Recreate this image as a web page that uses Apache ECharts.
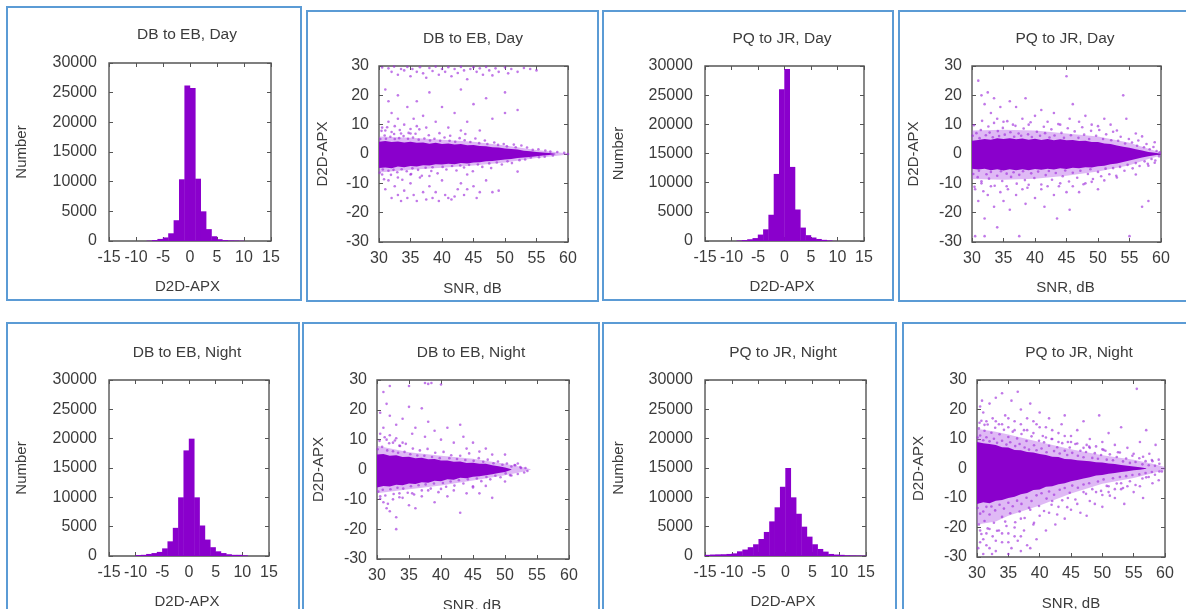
<!DOCTYPE html>
<html><head><meta charset="utf-8">
<style>html,body{margin:0;padding:0;background:#fff;overflow:hidden}#c{width:1186px;height:609px;filter:blur(0.5px)}</style>
<script src="https://cdn.jsdelivr.net/npm/echarts@6/dist/echarts.min.js"></script>
</head><body><div id="c"></div>
<script>
// Bin left edges -15 .. 14, width 1
const histBins = [-15,-14,-13,-12,-11,-10,-9,-8,-7,-6,-5,-4,-3,-2,-1,0,1,2,3,4,5,6,7,8,9,10,11,12,13,14];
const histDbDay   = [0,0,0,0,0,0,0,60,150,350,600,1300,3500,10400,26200,25800,10500,5000,2000,800,300,150,100,80,50,0,0,0,0,0];
const histPqDay   = [0,0,0,0,0,0,80,150,300,500,1100,2000,4500,11500,26000,29500,12700,5400,2300,1000,600,350,200,100,20,0,0,0,0,0];
const histDbNight = [0,0,0,0,0,150,200,350,500,700,1300,2500,4800,10000,18000,20000,10000,5200,2800,1500,800,500,300,200,200,120,0,0,0,0];
const histPqNight = [200,250,280,300,350,450,800,1100,1500,2000,2900,4100,5900,8300,11800,15000,10000,7200,5000,3300,2000,1200,750,350,250,200,120,100,80,60];

// Estimated envelope of the solid cloud: [SNR, lower, upper]
const coreDbDay = [[30,-4.8,4.2],[31,-4.6,4.4],[32,-4.9,4.1],[33,-4.3,4.3],[34,-4.5,3.9],[35,-4.1,4.2],[36,-4.3,3.8],[37,-3.8,3.9],[38,-3.9,3.5],[39,-3.5,3.8],[40,-3.6,3.4],[41,-3.3,3.6],[42,-3.5,3.2],[43,-3.1,3.4],[44,-3.2,3],[45,-2.9,3.1],[46,-2.8,2.7],[47,-2.5,2.6],[48,-2.4,2.3],[49,-2.1,2.2],[50,-1.9,1.9],[51,-1.7,1.7],[52,-1.4,1.5],[53,-1.2,1.1],[54,-1,0.9],[55,-0.8,0.7],[56,-0.5,0.5],[57,-0.3,0.3],[58,-0.1,0.1]];
const fringeDbDay = [[30,-6.3,6],[35,-5.4,5.5],[40,-4.7,4.9],[45,-3.9,4.2],[50,-2.9,2.9],[55,-1.4,1.4],[58,-0.7,0.7],[60,-0.2,0.2]];
const corePqDay = [[30,-5,4.5],[31,-5.3,4.8],[32,-5,5.1],[33,-5.5,4.9],[34,-5.2,5.4],[35,-5.6,5.1],[36,-5.2,5.4],[37,-5.5,5],[38,-5.2,5.3],[39,-5.5,4.9],[40,-5.1,5.2],[41,-5.4,4.8],[42,-5,5.1],[43,-5.3,4.7],[44,-4.9,5],[45,-5.1,4.7],[46,-4.7,4.8],[47,-4.9,4.4],[48,-4.5,4.5],[49,-4.6,4.1],[50,-4.2,4.1],[51,-4,3.6],[52,-3.5,3.4],[53,-3.2,2.9],[54,-2.7,2.5],[55,-2.2,2.1],[56,-1.7,1.6],[57,-1.2,1.2],[58,-0.8,0.7],[59,-0.4,0.4],[60,-0.1,0.1]];
const fringePqDay = [[30,-8.5,8],[35,-8.8,8.3],[40,-8.4,8],[45,-7.4,7],[50,-6,6],[55,-3.8,3.8],[58,-1.7,1.8],[60,-0.5,0.5]];
const coreDbNight = [[30,-6,5],[31,-5.5,5.2],[32,-5.7,4.6],[33,-5.1,4.8],[34,-5.3,4.2],[35,-4.7,4.3],[36,-4.9,3.8],[37,-4.3,3.9],[38,-4.4,3.4],[39,-3.8,3.5],[40,-3.9,3],[41,-3.3,3],[42,-3.4,2.6],[43,-2.8,2.7],[44,-2.9,2.2],[45,-2.4,2.3],[46,-2.3,1.9],[47,-1.9,1.9],[48,-1.6,1.4],[49,-1.2,1.1],[50,-0.8,0.7],[51,-0.1,0.1]];
const fringeDbNight = [[30,-8,8],[35,-6.6,5.8],[40,-5.4,4.6],[45,-3.7,3.6],[50,-1.9,1.9],[53,-0.7,0.7],[54,-0.1,0.1]];
const corePqNight = [[30,-12,9],[31,-11.4,8.6],[32,-11.8,8.3],[33,-10.9,8],[34,-10.7,7.2],[35,-10,7.1],[36,-9.6,6.3],[37,-8.7,6.2],[38,-8.3,5.6],[39,-7.3,5.4],[40,-7.1,4.9],[41,-6.2,4.6],[42,-6,4],[43,-5.3,3.9],[44,-5,3.2],[45,-4.3,3.1],[46,-3.9,2.8],[47,-3.4,2.6],[48,-3,2.5],[49,-2.4,2.1],[50,-2.2,2],[51,-1.8,1.7],[52,-1.5,1.5],[53,-1.2,1.2],[54,-0.9,0.9],[55,-0.6,0.7],[56,-0.4,0.4],[57,-0.1,0.1]];
const fringePqNight = [[30,-19,13.5],[33,-18,12.5],[35,-16,11.5],[40,-12.5,9],[45,-8.5,6.5],[50,-5.2,4.5],[55,-3.2,3],[58,-1.6,1.6],[60,-0.5,0.5]];

// Individually read scattered points
const dotsDbDay = [[30.5,29.5],[31.5,29.2],[32,28],[32.4,29.8],[33,27],[33.5,29],[34,28.5],[34.5,29.7],[35,26.5],[35.3,29],[36,28],[36.5,29.6],[37,27.5],[37.5,26],[38,29.3],[38.5,28.3],[39,29.8],[39.5,27],[40,29],[40.5,28],[41,29.6],[41.5,26.5],[42,29],[42.5,27.6],[43,29.7],[43.5,28.5],[44,25.5],[44.5,29],[45,29.6],[45.5,28],[46,29.2],[46.5,27],[47,29.7],[47.5,28.5],[48,26.8],[48.5,29.2],[49,28],[50,29.5],[50.5,27.5],[51,29],[52,28],[53,29.3],[54,29],[55,28.5],[31,22],[31.5,18],[32,14],[33,12],[33,20],[34,10],[34.5,16],[35,8.5],[35.5,12],[36,18],[37,13],[37.5,9],[38,21],[39,11],[40,16],[41,9],[42,14],[43,22],[44,11],[45,17],[46,8],[47,19],[48,12],[50,14],[52,15],[50,21],[43,8],[30.5,9],[31,8],[31.5,11],[32,7.5],[32.5,9.5],[33.5,7],[35,7],[36,9.5],[30.5,-7],[31,-12],[31.5,-9],[32,-15],[32.5,-11],[33,-14],[33.5,-16],[34,-12.5],[34.5,-15],[35,-10],[35.5,-14],[36,-16],[36.5,-8],[37,-13],[37.5,-15.5],[38,-11],[38.5,-15],[39,-13],[39.5,-16],[40,-9],[40.5,-14],[41,-15],[41.5,-15.5],[42,-14.5],[42.5,-12],[43,-10],[43.5,-14],[44,-12],[45,-11],[45.5,-15],[46,-13],[47,-9],[48,-13],[49,-12.5],[33,-8],[35,-7],[38,-7.5],[44,-7],[52,-6]];
const edgeDbDay = [[30.2,5.1],[30.4,7.9],[30.9,6.3],[31.1,5.2],[31.3,9.1],[31.8,5.9],[32.4,6.8],[32.5,5.1],[33.2,5.4],[33.3,8.2],[33.9,6.1],[34.6,5.2],[34.7,7.2],[35.4,5.6],[35.8,6.9],[36.3,4.9],[36.4,8.4],[37.2,5.3],[37.9,6.4],[38.1,4.6],[38.8,5.2],[39.6,7.1],[39.7,4.5],[40.4,5.6],[41.2,4.5],[41.3,6.2],[42.1,4.2],[42.8,5.4],[43.6,4.7],[43.7,6.8],[44.5,4.1],[45.3,5.3],[45.9,3.7],[46.8,4.6],[47.2,3.4],[48.3,3.9],[48.9,3.1],[49.8,3.4],[50.3,2.6],[51.4,3.2],[51.7,2.3],[52.6,2.9],[53.5,2.2],[54.4,1.4],[55.3,1.6],[56.4,1.2],[57.2,0.8],[58.3,0.7],[59.4,0.4],[60,0],
[30.1,-6.4],[30.6,-5.3],[30.8,-8.6],[31.5,-5.7],[31.9,-7.1],[32.3,-5.4],[32.9,-6.2],[33.6,-5.2],[33.7,-8.8],[34.4,-5.9],[35.1,-6.8],[35.3,-4.9],[36.2,-5.4],[36.8,-7.4],[37.4,-4.7],[38.3,-5.8],[38.5,-4.5],[39.3,-6.6],[40.1,-4.4],[40.7,-5.3],[41.6,-4.1],[42.3,-5.6],[42.9,-3.9],[43.5,-4.6],[44.3,-3.7],[44.9,-5.9],[45.7,-3.6],[46.4,-4.4],[47.5,-3.2],[47.8,-4.8],[48.7,-2.9],[49.5,-3.6],[50.4,-2.5],[51.1,-3.1],[52.3,-2.1],[53.2,-1.9],[54.1,-1.2],[55.4,-1.1],[56.3,-0.9],[57.6,-0.5]];
const dotsPqDay = [[31,25],[31.5,20],[32,17],[32.5,21],[33,14],[33.5,19],[34,12],[34.5,16],[35,11],[36,18],[36.5,10],[37,16],[38,12],[38.5,19],[39,10],[40,13],[41,15],[42,11],[43,14],[44,10],[45,26.5],[45.5,12],[46,17],[47,11],[48,13],[49,10],[50,9.5],[51,12],[52,10],[53,8],[54,20],[54.5,12],[56,7],[57,6],[30.5,-12],[31,-16],[31.5,-10],[32,-22],[32.5,-14],[33,-11],[33.5,-18],[34,-25],[34.5,-13],[35,-16],[35.5,-11],[36,-19],[37,-14],[37.5,-28],[38,-12],[38.5,-17],[39,-10.5],[40,-15],[41,-12],[41.5,-18],[42,-11],[43,-14],[43.5,-22],[44,-10],[45,-13],[45.5,-19],[46,-11],[47,-13],[48,-10],[49,-9.5],[50,-12],[51,-9],[53,-8],[55,-28],[56,-7],[57,-18],[58,-16],[58,-4],[59,-3],[59,4],[32,-28],[30.5,-28]];
const edgePqDay = [[30.1,6.2],[30.3,9.8],[30.7,7.1],[31.2,5.4],[31.4,8.2],[31.6,11.3],[32.2,6.4],[32.6,9.4],[32.8,7.3],[33.3,5.7],[33.5,10.6],[34.1,7.8],[34.3,6.1],[34.9,8.9],[35.2,6.6],[35.6,11.2],[36.1,7.4],[36.7,5.9],[36.9,9.6],[37.4,7],[37.8,6.2],[38.2,8.7],[38.9,6.7],[39.3,10.8],[39.5,5.8],[40.3,7.6],[40.8,6.2],[41.4,9.3],[41.6,7.1],[42.3,5.6],[42.6,8.4],[43.1,6.3],[43.7,10.2],[44.2,7.2],[44.6,5.5],[45.2,8.8],[45.7,6.4],[46.3,7.7],[46.9,5.5],[47.5,9.1],[47.8,6.6],[48.6,5.1],[48.9,7.9],[49.7,6.2],[50.2,8.2],[50.8,5.1],[51.3,6.7],[52.1,4.7],[52.4,7.6],[53.2,4.5],[53.6,5.9],[54.3,3.6],[54.9,5.1],[55.4,3.9],[56.2,2.8],[56.4,4.6],[57.3,2.3],[57.7,3.4],[58.2,1.6],[58.8,2.4],[59.3,1],[59.8,0.6],
[30.2,-6.8],[30.4,-11.2],[30.9,-7.9],[31.1,-5.7],[31.5,-9.3],[31.8,-12.7],[32.3,-6.9],[32.7,-8.4],[33,-6.1],[33.6,-10.8],[34,-7.4],[34.6,-5.9],[34.8,-9.2],[35.5,-6.7],[35.7,-12],[36.2,-7.8],[36.6,-6.2],[37.1,-10.1],[37.5,-7.1],[38.1,-5.9],[38.4,-8.9],[38.8,-11.5],[39.4,-6.6],[39.9,-8.2],[40.5,-6],[41,-10.4],[41.7,-7.2],[42.2,-5.8],[42.7,-8.8],[43.3,-6.5],[43.8,-11],[44.4,-7.6],[44.8,-5.6],[45.4,-9.4],[46,-6.4],[46.7,-8.1],[47.2,-5.7],[47.7,-10.3],[48.4,-6.8],[48.8,-5.2],[49.2,-8.5],[50,-6.1],[50.5,-7.6],[51.2,-5],[51.8,-6.9],[52.4,-4.8],[52.9,-7.4],[53.5,-4.4],[54.2,-5.7],[54.7,-3.7],[55.5,-4.9],[56,-3.1],[56.6,-4.1],[57.4,-2.5],[57.9,-3.3],[58.5,-1.7],[59.1,-2.2],[59.7,-0.8]];
const dotsDbNight = [[32,28],[35,28],[37.5,29],[38,28.7],[38.5,29],[40,28.5],[31,26],[30.5,19],[31.5,22],[32,18],[33,15],[34,17],[35,21],[35.5,12],[36,14],[37,20.5],[37.5,11],[38,16],[39,13],[40,10],[41,14],[42,9],[43,15],[43.5,11],[44,7],[45,9],[46,6],[47,7],[48,5],[50,5],[52,2],[30.5,12],[31,14],[31.5,10],[32,11.5],[32.5,9],[33,10.5],[33.5,8],[34,9],[30.5,-9],[31,-11],[31.5,-13],[32,-14],[32.5,-10],[33,-16],[33.5,-8],[34,-9.5],[35,-12],[35.5,-8],[36,-13],[37,-9],[38,-7],[39,-11],[40,-6.5],[41,-9],[42,-7],[43,-14.5],[44,-8],[45,-6],[46,-8],[47,-5.5],[48,-9.5],[50,-4],[51,-2],[52,-1.5],[53,-1],[53.5,-0.5],[52.5,0.5],[51.5,1.5],[33,-20]];
const edgeDbNight = [[30.1,6.8],[30.4,9.6],[30.8,7.6],[31.2,10.8],[31.6,6.4],[31.9,8.8],[32.5,6.1],[32.8,9.7],[33.3,5.6],[33.6,7.9],[34.3,5.9],[34.5,8.6],[35.2,5.1],[35.6,7],[36.3,4.7],[36.7,6.4],[37.4,4.6],[37.9,6.9],[38.6,4.2],[39.1,5.6],[39.8,3.8],[40.4,5.9],[41.3,3.8],[41.6,4.8],[42.5,3.5],[43,4.6],[43.8,3.2],[44.4,5.4],[45.1,2.9],[45.9,3.8],[46.6,2.6],[47.3,3.3],[48.2,2.1],[48.9,2.7],[49.6,1.6],[50.3,2],[51,1],[51.6,1.4],[52.4,0.8],[53.2,0.5],
[30.2,-7.4],[30.5,-9.8],[30.9,-6.8],[31.3,-8.7],[31.7,-11.5],[32.1,-6.6],[32.6,-8.2],[33.2,-6.1],[33.5,-9.3],[34.1,-6.4],[34.8,-7.8],[35.3,-5.6],[35.8,-8.4],[36.5,-5.3],[37,-7],[37.6,-5],[38.4,-6.4],[38.9,-4.7],[39.6,-7.6],[40.3,-4.5],[40.8,-5.8],[41.5,-4],[42.1,-5.4],[42.8,-3.6],[43.5,-4.7],[44.2,-3.3],[45,-5.6],[45.6,-3],[46.3,-3.9],[47.1,-2.5],[47.7,-3.3],[48.5,-2.1],[49.3,-2.6],[50.1,-1.3],[50.8,-1.9]];
const dotsPqNight = [[30.5,21],[31,19],[31.5,16],[32,22],[32.5,17],[33,24],[33.5,15],[34,25.5],[34.5,18],[35,14],[35.5,23],[36,16],[36.5,26],[37,20],[37.5,13],[38,17],[38.5,22],[39,12],[39.5,15],[40,19],[40.5,11],[41,14],[41.5,17],[42,10],[43,12],[43.5,15],[44,18],[44.5,9],[45,11],[46,13],[47,16],[47.5,8],[48,10],[49,7.5],[49.5,18],[50,9],[50.5,6],[51,12],[52,8],[52.5,5.5],[53,14],[54,7],[55,5],[55.5,27],[56,9],[56.5,4],[57,13],[57.5,5],[58,2.5],[58.5,8],[59,3],[59.5,-1],[59,-4],[58,-5],[57,-3],[56.5,-10],[56,-6],[55,-8],[54,-6],[53.5,-12],[53,-7],[52,-10],[51,-6],[50,-9],[50,-13],[49,-8],[48,-11],[47.5,-16],[47,-8],[46,-12],[45,-14],[44.5,-10],[44,-17],[43,-13],[42.5,-19],[42,-11],[41.5,-15],[41,-21],[40,-16],[39.5,-24],[39,-19],[38.5,-14],[38,-26],[37.5,-21],[37,-17],[36.5,-24.5],[36,-20],[35.5,-27],[35,-22],[34.5,-18],[34,-25],[33.5,-21],[33,-28],[32.5,-23],[32,-27],[31.5,-22],[31,-29],[30.5,-25],[30.2,-27],[32.4,-29],[35,-29],[37,-28],[38.5,-27],[30.5,-21],[31,-24],[31.5,-26],[32,-20.5],[33,-24.5],[34,-22],[35,-25],[36,-23],[37,-23],[30.4,15.5],[30.8,23],[31.2,14.8],[33,16],[34,15],[35,17],[36,13],[37,15],[38,13],[39,16],[40,14],[41,10.5],[42,13],[43,9],[44,11],[45,9],[46,8.5],[47,7],[48,7],[50,6.5],[51,-8],[52,-7],[53,-5]];
const edgePqNight = [[30.1,10.5],[30.3,13.6],[30.5,11.2],[30.7,16.2],[31,9.6],[31.2,12.8],[31.5,10.6],[31.7,14.9],[32,9.2],[32.3,12.1],[32.7,10.1],[32.9,13.8],[33.2,8.7],[33.6,11.6],[34,9.4],[34.3,13.1],[34.7,8.1],[35,10.7],[35.3,8.9],[35.7,12.5],[36.1,7.6],[36.4,10.2],[36.8,8.3],[37.1,11.7],[37.6,7.1],[37.9,9.3],[38.3,6.4],[38.7,10.9],[39.1,7.9],[39.5,6.2],[39.9,9.4],[40.3,6.8],[40.7,8.9],[41.1,5.5],[41.5,7.7],[41.9,10],[42.3,5.9],[42.8,7.2],[43.2,5.1],[43.6,8.6],[44,6],[44.4,4.6],[44.8,7.1],[45.2,5.3],[45.7,8.3],[46.1,4.3],[46.5,6],[47,3.8],[47.4,5.6],[47.9,7.4],[48.4,3.6],[48.8,5.2],[49.3,3.3],[49.8,4.6],[50.2,6.3],[50.7,3],[51.2,4.8],[51.7,2.8],[52.3,3.9],[52.8,5.4],[53.3,2.4],[53.8,3.4],[54.4,1.9],[54.8,4.3],[55.3,2.2],[55.9,3.5],[56.4,1.4],[56.9,2.5],[57.4,1.1],[57.9,2.9],[58.4,0.9],[59.1,1.6],
[30.1,-13.4],[30.3,-19],[30.5,-15.3],[30.7,-22.2],[31,-14.6],[31.2,-17.8],[31.5,-13],[31.7,-20.3],[32,-15.6],[32.3,-12.9],[32.7,-18.4],[32.9,-14.2],[33.2,-21.1],[33.6,-12.3],[34,-16.4],[34.3,-13.6],[34.7,-19.5],[35,-11.6],[35.3,-15.2],[35.7,-12.8],[36.1,-18.2],[36.4,-10.9],[36.8,-14.6],[37.1,-12],[37.6,-16.8],[37.9,-9.9],[38.3,-13.3],[38.7,-11],[39.1,-18.4],[39.5,-9.1],[39.9,-12.7],[40.3,-8.4],[40.7,-14.4],[41.1,-10.2],[41.5,-7.8],[41.9,-12.3],[42.3,-8.9],[42.8,-15.6],[43.2,-7.2],[43.6,-10.8],[44,-6.6],[44.4,-13.1],[44.8,-8.2],[45.2,-5.8],[45.7,-10.5],[46.1,-6.5],[46.5,-15],[47,-5.4],[47.4,-8.6],[47.9,-5],[48.4,-7],[48.8,-12],[49.3,-4.4],[49.8,-7.6],[50.2,-3.7],[50.7,-5.9],[51.2,-9.2],[51.7,-3.3],[52.3,-5.1],[52.8,-2.9],[53.3,-6.6],[53.8,-2.6],[54.4,-4.3],[54.8,-2.2],[55.3,-5.6],[55.9,-2],[56.4,-3.4],[56.9,-1.5],[57.4,-2.9],[57.9,-1.2],[58.4,-2.1],[59.1,-1]];

const axisColor = '#555', labelColor = '#3c3c3c', violet = '#8a00cc', fontFamily = '"Liberation Sans", Arial, sans-serif';
const panels = [
 {t:'DB to EB, Day',  hist:histDbDay,  g:[109,63,271,241], tc:[187,33], xg:30,yg:72,dx:5},
 {t:'DB to EB, Day',  core:coreDbDay, fringe:fringeDbDay, dots:dotsDbDay.concat(edgeDbDay), g:[379,66,568,242], tc:[473,37], xg:31,yg:41,dx:2},
 {t:'PQ to JR, Day',  hist:histPqDay,  g:[705,66,864,241], tc:[782,37], xg:30,yg:71,dx:5},
 {t:'PQ to JR, Day',  core:corePqDay, fringe:fringePqDay, dots:dotsPqDay.concat(edgePqDay), g:[972,66,1161,242], tc:[1065,37], xg:30,yg:43,dx:2},
 {t:'DB to EB, Night',hist:histDbNight,g:[109,380,269,556], tc:[187,351], xg:30,yg:72,dx:4},
 {t:'DB to EB, Night',core:coreDbNight,fringe:fringeDbNight,dots:dotsDbNight.concat(edgeDbNight),g:[377,380,569,559], tc:[471,351], xg:31,yg:43,dx:2},
 {t:'PQ to JR, Night',hist:histPqNight,g:[705,380,866,556], tc:[783,351], xg:30,yg:71,dx:5},
 {t:'PQ to JR, Night',core:corePqNight,fringe:fringePqNight,dots:dotsPqNight.concat(edgePqNight),g:[977,380,1165,557], tc:[1079,351], xg:31,yg:43,dx:0}
];
const frames = [[7,7,301,300],[307,11,598,301],[603,11,893,300],[899,11,1200,301],[7,323,299,640],[303,323,599,640],[603,323,896,640],[903,323,1200,640]];

const grid=[],xAxis=[],yAxis=[],series=[],title=[];
const tick=()=>({show:true,inside:true,length:4,lineStyle:{color:axisColor,width:1}});
panels.forEach((p,i)=>{
  const [l,t,r,b]=p.g, isHist=!!p.hist;
  grid.push({left:l,top:t,width:r-l,height:b-t,outerBoundsMode:'none',show:true,borderColor:axisColor,borderWidth:1.4,backgroundColor:'#fff'});
  title.push({text:p.t,left:p.tc[0],top:p.tc[1]-6,padding:0,textAlign:'center',textStyle:{fontSize:15.5,fontWeight:'normal',color:labelColor,fontFamily}});
  const xr=isHist?{min:-15,max:15,interval:5}:{min:30,max:60,interval:5};
  const yr=isHist?{min:0,max:30000,interval:5000}:{min:-30,max:30,interval:10};
  const base={type:'value',gridIndex:i,splitLine:{show:false},axisLine:{show:false,onZero:false}};
  const fmt=v=>String(v);
  xAxis.push({...base,...xr,position:'bottom',axisTick:tick(),
    axisLabel:{margin:9,fontSize:16,color:labelColor,fontFamily,formatter:fmt,showMinLabel:true,showMaxLabel:true},
    name:isHist?'D2D-APX':'SNR, dB',nameLocation:'middle',nameGap:p.xg+8,nameTextStyle:{fontSize:15,color:labelColor,fontFamily,padding:[0,p.dx,0,0]}});
  xAxis.push({...base,...xr,position:'top',axisTick:tick(),axisLabel:{show:false}});
  yAxis.push({...base,...yr,position:'left',axisTick:tick(),
    axisLabel:{margin:isHist?12:10,fontSize:16,color:labelColor,fontFamily,formatter:fmt,showMinLabel:true,showMaxLabel:true},
    name:isHist?'Number':'D2D-APX',nameLocation:'middle',nameGap:p.yg+8,nameTextStyle:{fontSize:15,color:labelColor,fontFamily}});
  yAxis.push({...base,...yr,position:'right',axisTick:tick(),axisLabel:{show:false}});
  const xi=i*2, yi=i*2;
  if(isHist){
    series.push({type:'bar',xAxisIndex:xi,yAxisIndex:yi,barWidth:(r-l)/30+0.4,silent:true,animation:false,
      itemStyle:{color:violet},data:histBins.map((e,k)=>[e+0.5,p.hist[k]]).filter(d=>d[1]>0)});
  } else {
    const band=(rows,color,z)=>({type:'custom',xAxisIndex:xi,yAxisIndex:yi,silent:true,animation:false,z,
      data:rows,encode:{x:0,y:[1,2]},
      renderItem(params,api){
        if(params.dataIndex!==0) return null;
        const pts=rows.map(r=>api.coord([r[0],r[2]])).concat(rows.slice().reverse().map(r=>api.coord([r[0],r[1]])));
        return {type:'polygon',shape:{points:pts},style:{fill:color}};
      }});
    series.push(band(p.fringe,'rgba(175,80,230,0.4)',2));
    series.push(band(p.core,violet,3));
    series.push({type:'scatter',xAxisIndex:xi,yAxisIndex:yi,silent:true,animation:false,z:4,symbol:'circle',symbolSize:2.6,
      itemStyle:{color:'#a030dc',opacity:0.65},data:p.dots});
  }
});
const graphic=frames.map(f=>({type:'rect',z:-1,silent:true,shape:{x:f[0],y:f[1],width:f[2]-f[0],height:f[3]-f[1]},style:{fill:'none',stroke:'#5b9bd5',lineWidth:2}}));
const chart=echarts.init(document.getElementById('c'),null,{renderer:'canvas'});
chart.setOption({animation:false,backgroundColor:'#fff',title,grid,xAxis,yAxis,series,graphic,tooltip:{show:false}});
</script></body></html>
